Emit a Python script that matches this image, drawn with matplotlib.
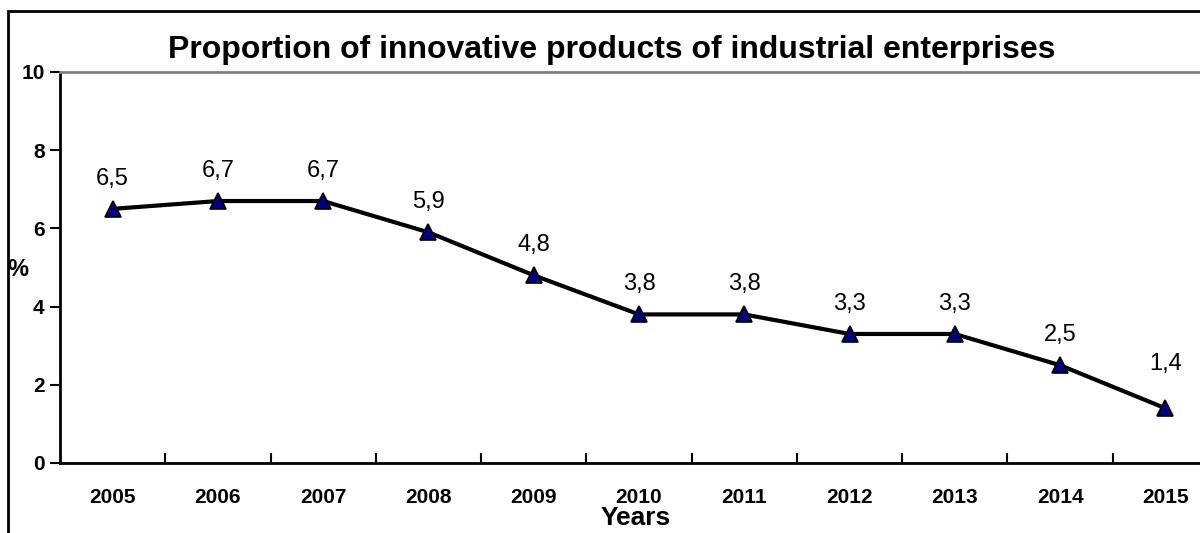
import matplotlib.pyplot as plt
from matplotlib.patches import Rectangle

years = ['2005', '2006', '2007', '2008', '2009', '2010', '2011', '2012', '2013', '2014', '2015']
share = [6.5, 6.7, 6.7, 5.9, 4.8, 3.8, 3.8, 3.3, 3.3, 2.5, 1.4]
labels = ['6,5', '6,7', '6,7', '5,9', '4,8', '3,8', '3,8', '3,3', '3,3', '2,5', '1,4']

plt.rcParams['font.family'] = ['Liberation Sans', 'DejaVu Sans']

fig = plt.figure(figsize=(12, 5.33), dpi=100)
# outer chart frame (cropped at right and bottom)
fig.patches.append(Rectangle((8 / 1200, -0.1), 1.2, 1.1 - 11 / 533,
                             transform=fig.transFigure, fill=False,
                             edgecolor='black', linewidth=2))

ax = fig.add_axes([60 / 1200, 1 - 463 / 533, 1158 / 1200, 391 / 533])
x = list(range(len(years)))
ax.plot(x, share, color='black', linewidth=3, marker='^', markersize=12,
        markerfacecolor='#000080', markeredgecolor='black', markeredgewidth=1.2,
        zorder=3)
for xi, yi, lab in zip(x, share, labels):
    dy = 44 if xi == len(years) - 1 else 30
    ax.annotate(lab, (xi, yi), xytext=(0, dy), textcoords='offset pixels',
                ha='center', va='center', fontsize=17)

ax.set_xlim(-0.5, len(years) - 0.5)
ax.set_ylim(0, 10)
ax.set_yticks([0, 2, 4, 6, 8, 10])
ax.set_xticks(x)
ax.set_xticklabels(years, fontweight='bold', fontsize=15)
ax.set_xticks([i + 0.5 for i in x[:-1]], minor=True)
ax.tick_params(axis='x', which='major', length=0, pad=18)
ax.tick_params(axis='x', which='minor', direction='in', length=7, width=1.5)
ax.tick_params(axis='y', direction='out', length=7, width=1.5, pad=4,
               labelsize=15)
for t in ax.get_yticklabels():
    t.set_fontweight('bold')

for s in ['left', 'bottom']:
    ax.spines[s].set_linewidth(2)
ax.spines['top'].set_color('#808080')
ax.spines['top'].set_linewidth(2)
ax.spines['right'].set_visible(False)

fig.text(612 / 1200, 1 - 50 / 533, 'Proportion of innovative products of industrial enterprises',
         ha='center', va='center', fontsize=23, fontweight='bold')
fig.text(636 / 1200, 1 - 518 / 533, 'Years', ha='center', va='center',
         fontsize=19, fontweight='bold')
fig.text(18 / 1200, 1 - 270 / 533, '%', ha='center', va='center',
         fontsize=17, fontweight='bold')

fig.savefig('out.png', dpi=100)
